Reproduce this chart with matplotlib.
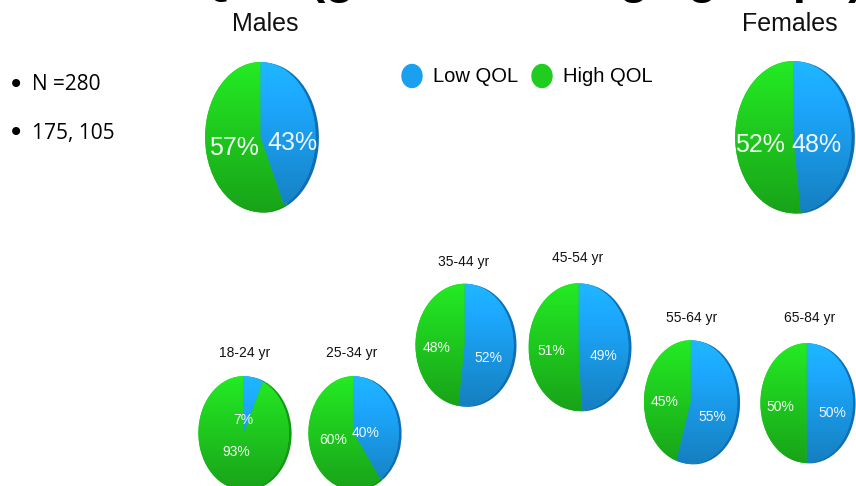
import numpy as np
import matplotlib.pyplot as plt
from matplotlib.patches import Ellipse
from matplotlib.colors import to_rgb

# data: share of Low QOL / High QOL (%)
groups = ['Males', 'Females', '18-24 yr', '25-34 yr', '35-44 yr', '45-54 yr', '55-64 yr', '65-84 yr']
low_qol = [43, 48, 7, 40, 52, 49, 55, 50]
high_qol = [57, 52, 93, 60, 48, 51, 45, 50]
bullets = ['N =280', '175, 105']
legend_labels = ['Low QOL', 'High QOL']

blue = '#1b9ff0'
green = '#1fcc1f'
blue_dark = '#0f6fb5'
green_dark = '#139a13'

W, H = 856, 486
fig = plt.figure(figsize=(W / 100, H / 100), dpi=100)
fig.patch.set_facecolor('white')

# layout in pixels (center x, center y, width, height)
pie_box = [(262, 137, 116, 153), (795, 137, 122, 155),
           (245, 433, 95, 116), (355, 433, 95, 116),
           (466, 345, 103, 125), (580, 347, 105, 130),
           (692, 402, 98, 126), (808, 403, 97, 122)]
title_pos = [(265, 24), (790, 24), (245, 353), (352, 353),
             (464, 262), (578, 258), (692, 318), (810, 318)]
# label positions (low label, high label)
lab_pos = [((292, 143), (234, 148)), ((816, 145), (760, 145)),
           ((243, 420), (236, 452)), ((366, 433), (333, 440)),
           ((488, 358), (437, 348)), ((604, 356), (551, 351)),
           ((712, 417), (665, 402)), ((832, 413), (780, 407))]


def grad(c, top=1.15, bot=0.8):
    r = np.array(to_rgb(c))
    t = np.linspace(0, 1, 64)[:, None]
    col = r * (top * (1 - t) + bot * t)
    return np.clip(col, 0, 1)[:, None, :]


for i in range(len(groups)):
    cx, cy, w, h = pie_box[i]
    ax = fig.add_axes([(cx - w / 2) / W, 1 - (cy + h / 2) / H, w / W, h / H])
    vals = [low_qol[i], high_qol[i]]
    # darker rim to fake the 3d edge
    ax.pie(vals, colors=[blue_dark, green_dark], startangle=90, counterclock=False,
           center=(0.06, -0.01), radius=1.0)
    wedges, _ = ax.pie(vals, colors=[blue, green], startangle=90, counterclock=False,
                       center=(0, 0), radius=1.0)
    for wdg, c in zip(wedges, [blue, green]):
        im = ax.imshow(grad(c), extent=(-1, 1, -1, 1), aspect='auto', zorder=2)
        im.set_clip_path(wdg)
    ax.set_aspect('auto')
    ax.set_xlim(-1.02, 1.08)
    ax.set_ylim(-1.02, 1.02)
    ax.axis('off')

ov = fig.add_axes([0, 0, 1, 1])
ov.set_xlim(0, W)
ov.set_ylim(H, 0)
ov.axis('off')

for i, g in enumerate(groups):
    big = i < 2
    ov.text(title_pos[i][0], title_pos[i][1], g, ha='center', va='center',
            fontsize=18 if big else 10, family='Liberation Sans', color='#111111')
    (lx, ly), (hx, hy) = lab_pos[i]
    fs = 18 if big else 10
    ov.text(lx, ly, f'{low_qol[i]}%', ha='center', va='center', fontsize=fs,
            color='#eef6ff', family='Liberation Sans')
    ov.text(hx, hy, f'{high_qol[i]}%', ha='center', va='center', fontsize=fs,
            color='#f2fff2', family='Liberation Sans')

# legend
ov.add_patch(Ellipse((412, 76), 20, 23, color=blue))
ov.text(433, 76, legend_labels[0], va='center', fontsize=14.5, family='Liberation Sans')
ov.add_patch(Ellipse((542, 76), 20, 23, color=green))
ov.text(563, 76, legend_labels[1], va='center', fontsize=14.5, family='Liberation Sans')

# bullets
for j, b in enumerate(bullets):
    y = 85 + j * 48
    ov.text(8, y, '\u2022', va='center', fontsize=20, family='DejaVu Sans')
    ov.text(32, y, b, va='center', fontsize=15, family='Open Sans')

# slide title, mostly cut off by the top edge ("(" should land at x=310)
title = 'QOL (gender and age groups)'
pre = ov.text(0, 0, 'QOL ', fontsize=34, fontweight='bold', family='Liberation Sans')
pw = pre.get_window_extent(renderer=fig.canvas.get_renderer()).width
pre.remove()
ov.text(310 - pw, -7, title, ha='left', va='baseline', fontsize=34,
        fontweight='bold', family='Liberation Sans', color='black')

fig.savefig('out.png', dpi=100)
